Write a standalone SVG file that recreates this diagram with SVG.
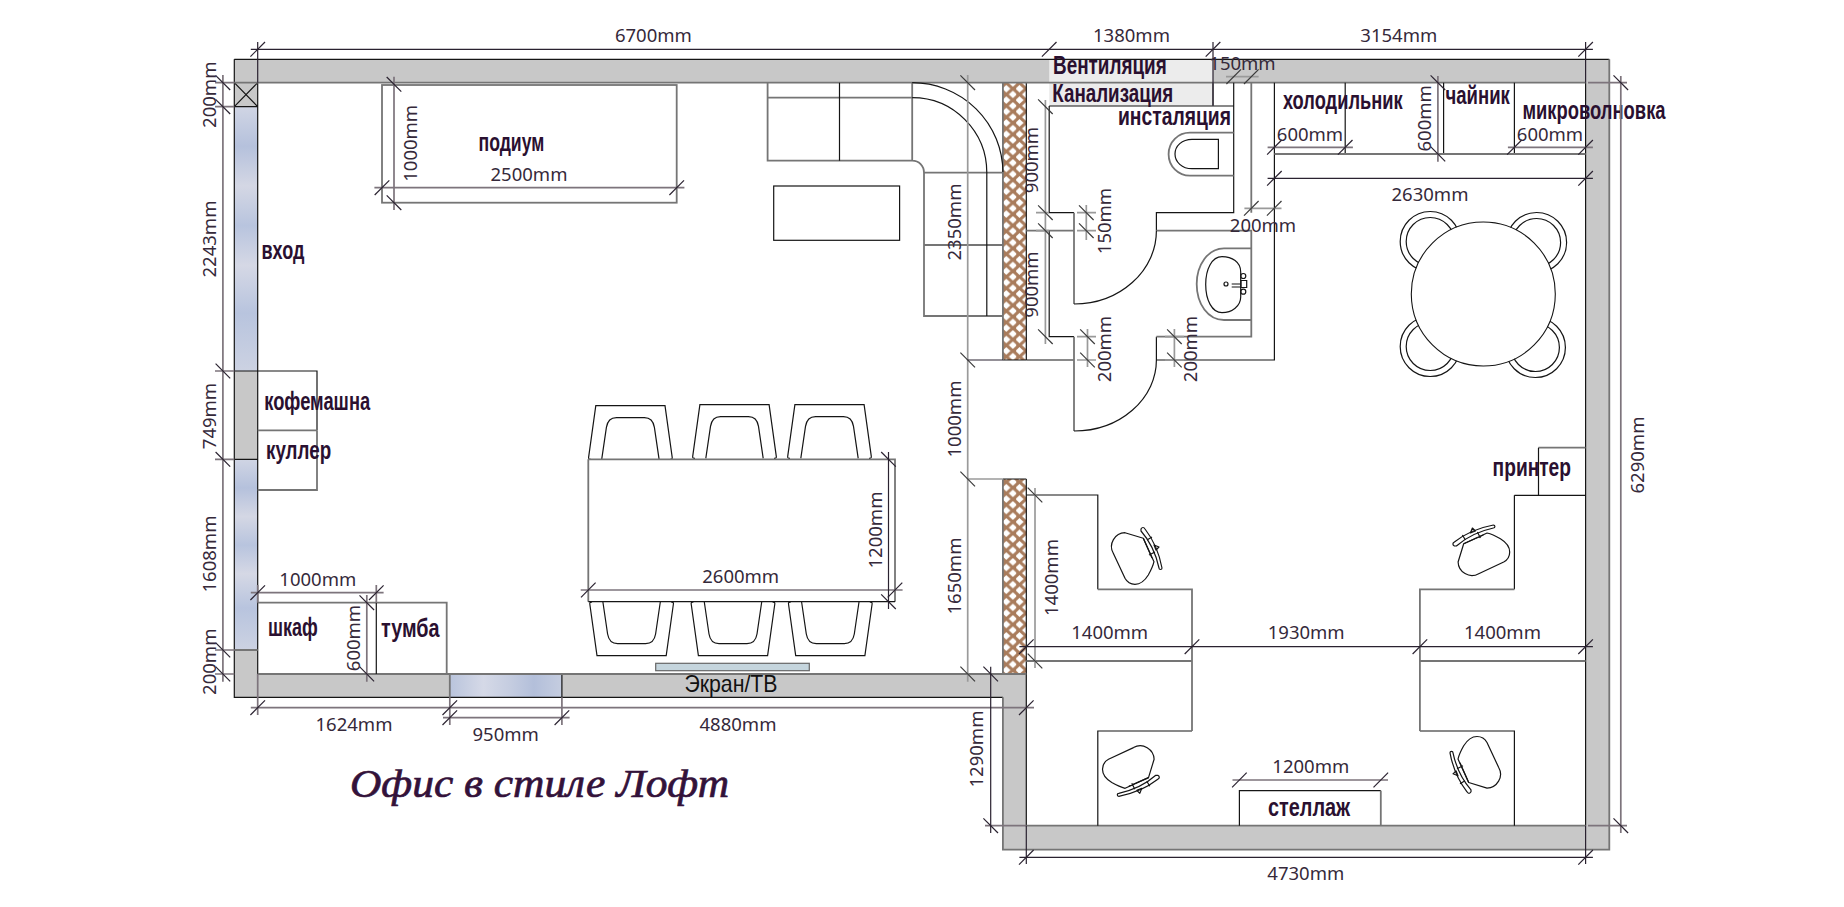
<svg xmlns="http://www.w3.org/2000/svg" width="1844" height="907" viewBox="0 0 1844 907">
<style>
.k{fill:none;stroke:#151515;stroke-width:1.2}
.g{fill:none;stroke:#757575;stroke-width:1.8}
.w{fill:#fff;stroke:#151515;stroke-width:1.1}
.dk path,.dk use{fill:none;stroke:#2a2230;stroke-width:1.2}
.dg path,.dg use{fill:none;stroke:#7d747c;stroke-width:1.7}
.dl path{fill:none;stroke:#9a9a9a;stroke-width:1.7}
.dl use{fill:none;stroke:#3a3a3a;stroke-width:1.2}
text{fill:#2c1a30}
.d{font:18.5px "Noto Sans",sans-serif;text-anchor:middle;fill:#35293a}
.l{font:bold 26px "Liberation Sans",sans-serif;fill:#2a1030}
.s{font:24px "Liberation Sans",sans-serif;fill:#111}
.t{font:italic 40px "Liberation Serif",serif;fill:#33123a;stroke:#33123a;stroke-width:.7}
</style>
<defs>
<path id="f" d="M-7.3 7.3L7.3-7.3"/>
<path id="b" d="M-7.3-7.3L7.3 7.3"/>
<pattern id="brick" width="13.2" height="11.4" patternUnits="userSpaceOnUse" x="1003" y="83">
<rect width="13.2" height="11.4" fill="#a97c5c"/>
<path d="M3.3 1.9L7.4 5.7L3.3 9.5L-.8 5.7ZM9.9-3.8L14 0L9.9 3.8L5.8 0ZM9.9 7.6L14 11.4L9.9 15.2L5.8 11.4Z" fill="#fff"/>
</pattern>
<linearGradient id="gv" x1="0" y1="0" x2="0" y2="1">
<stop offset="0" stop-color="#d0d5e4"/><stop offset=".15" stop-color="#b5c1dc"/><stop offset=".3" stop-color="#d4d7e4"/><stop offset=".45" stop-color="#b8c4de"/><stop offset=".6" stop-color="#d5d8e5"/><stop offset=".78" stop-color="#b8c4de"/><stop offset="1" stop-color="#ccd2e2"/>
</linearGradient>
<linearGradient id="gh" x1="0" y1="0" x2="1" y2="0">
<stop offset="0" stop-color="#b9c4dc"/><stop offset=".3" stop-color="#d5d9e7"/><stop offset=".55" stop-color="#c4cce0"/><stop offset=".75" stop-color="#b3bfda"/><stop offset="1" stop-color="#c5cde0"/>
</linearGradient>
<g id="dc" class="k">
<path d="M-39.500 0C-41.500 0-42 -.5-41.800-2L-34.600-53.600H34.600L41.800-2C42-.5 41.500 0 39.500 0M-28.700 0L-24-32C-23-38-20-41.700-14-41.700H14C20-41.700 23-38 24-32L28.700 0"/>
</g>
<g id="oc" class="k" stroke-linejoin="round">
<path d="M-18.700-4.700C-24-14-17-25-7-25.300L11.300-19.700L22 3.700C21 8 18 14 16.300 17C12 24 8 26.300 3 26.300C-2 26.300-5 24-7 20.300Z"/>
<path d="M9-29C10-31 12-31 13-29C20-20 27-6 30 10C30 12 27 12 27 10C24-4 17-18 9-27Z"/>
<path d="M11.300-19.700L20 0M15-18L20-21M17-3L23-6M22-13L27-11L24-8Z"/>
</g>
</defs>
<rect width="1844" height="907" fill="#fff"/>

<g id="walls">
<path d="M234.300 59.300H1609.300V849.700H1002.900V697.300H234.300ZM257.700 82.700V674H1026.300V825.700H1585.600V82.700Z" fill="#c8c8c8" fill-rule="evenodd"/>
<rect id="window-left-1" x="234.300" y="106.700" width="23.400" height="264.300" fill="url(#gv)"/>
<rect id="window-left-2" x="234.300" y="459.300" width="23.400" height="190.700" fill="url(#gv)"/>
<rect id="window-bottom" x="449.800" y="674" width="112.100" height="23.300" fill="url(#gh)"/>
<rect id="vent-box" x="1049.200" y="59.300" width="163.800" height="46.700" fill="#ececec"/>
<rect id="partition-1" x="1002.900" y="82.700" width="23.400" height="277.300" fill="url(#brick)"/>
<rect id="partition-2" x="1002.900" y="479" width="23.400" height="195" fill="url(#brick)"/>
<path class="k" d="M234.300 59.300H1609.300M234.300 59.300V697.300H1002.900M257.700 82.700V106.700M234.300 106.700H257.700M234.300 82.700L257.700 106.700M257.700 82.700L234.300 106.700M257.700 106.700V674M234.300 371H257.700M234.300 459.300H257.700M1585.600 82.700V825.700M1026.300 674V825.700M1002.900 479H1026.300M1002.900 360H1026.300M1026.300 82.700V360M1026.300 479V674M561.900 674V697.300"/>
<path class="g" d="M234.300 82.700H1585.600M257.700 674H1026.300M1026.300 825.700H1585.600M1609.300 59.300V849.700H1002.900V697.300M234.300 650H257.700M449.800 674V697.300M1002.900 82.700V360M1002.900 479V674"/>
</g>

<g id="bathroom">
<path class="k" d="M1049.200 106V212.700H1074M1049.200 230.700V336.700H1074M1026.300 360H1074M1156.400 360H1274.400V82.700M1156.400 336.700V360M1233.700 82.700V212.700H1156.400V230.700M1049.200 106H1233.700"/>
<path class="g" d="M1026.300 230.700H1074M1074 212.700V304M1156.400 230.700H1251.300V336.700H1156.400M1251.300 82.700V212.700M1074 336.700V431M1213 82.700V106"/>
<path id="door-1" class="k" d="M1074 304A82.400 73.300 0 0 0 1156.400 230.700"/>
<path id="door-2" class="k" d="M1074 431A82.400 71 0 0 0 1156.400 360"/>
<g id="toilet">
<path class="g" d="M1233.700 132.700H1190C1178 132.700 1168.600 142 1168.600 154.200C1168.600 166 1178 175.700 1190 175.700H1233.700"/>
<path class="k" d="M1218.400 139.300H1192C1182 139.300 1175 146 1175 154C1175 162 1182 168.700 1192 168.700H1218.400Z"/>
</g>
<g id="sink">
<path class="g" d="M1251.300 248.300H1224C1208 248.300 1196.700 265 1196.700 284C1196.700 304 1208 320 1224 320H1251.300"/>
<path class="k" d="M1222 256.700C1232 256.700 1240.700 262 1240.700 272V297C1240.700 306 1232 312.700 1222 312.700C1212 312.700 1205.700 300 1205.700 284.500C1205.700 269 1212 256.700 1222 256.700Z"/>
<circle class="k" cx="1226" cy="284" r="2"/>
<path class="k" d="M1231.700 284H1241M1241 280.500H1246.700V287.500H1241ZM1231.700 287H1241"/>
<circle class="k" cx="1243.300" cy="276" r="2.500"/>
<circle class="k" cx="1243.300" cy="291.700" r="2.500"/>
</g>
</g>

<g id="podium"><rect class="g" x="382" y="85" width="294.700" height="117.700"/><text class="l" x="478.500" y="151.300" textLength="65.800" lengthAdjust="spacingAndGlyphs">подиум</text></g>
<g id="sofa">
<path class="g" d="M912.200 82.700V160.700H767.600V82.700M767.600 97.700H912.200M912.200 160.700C919 160.700 924 166 924 172.700V316H1002.900M924 172.700H1002.900M924 245H1002.900"/>
<path class="k" d="M839.500 82.700V160.700M912.200 82.700A90.700 90 0 0 1 1002.900 172M912.200 97.700A74.600 75 0 0 1 986.800 172.700V316"/>
</g>
<rect id="coffee-table" class="k" x="773.700" y="186" width="125.900" height="54.300"/>

<g id="coffee-machine"><path class="k" d="M257.700 371H317V430.300"/><path class="g" d="M257.700 430.300H317"/><text class="l" x="264.200" y="410" textLength="106" lengthAdjust="spacingAndGlyphs">кофемашна</text></g>
<g id="cooler"><path class="g" d="M317 430.300V490H257.700"/><text class="l" x="266" y="459.300" textLength="65.200" lengthAdjust="spacingAndGlyphs">куллер</text></g>
<g id="wardrobe"><path class="g" d="M257.700 602.700H446.700V674"/><path class="k" d="M376.300 602.700V674"/><text class="l" x="268" y="636" textLength="49.800" lengthAdjust="spacingAndGlyphs">шкаф</text></g>
<g id="cabinet"><text class="l" x="381" y="637.300" textLength="58.500" lengthAdjust="spacingAndGlyphs">тумба</text></g>

<g id="dining">
<use href="#dc" x="630.400" y="459.300"/>
<use href="#dc" x="734.500" y="458.300"/>
<use href="#dc" x="829.500" y="458.300"/>
<use href="#dc" transform="translate(631.600 602) scale(1 -1)"/>
<use href="#dc" transform="translate(733 602) scale(1 -1)"/>
<use href="#dc" transform="translate(830.300 602) scale(1 -1)"/>
<path class="g" d="M588.300 459.300H895V601.700M588.300 459.300V601.700"/>
<path class="k" d="M588.300 601.700H895"/>
</g>

<g id="screen"><rect x="655.700" y="663.300" width="153.600" height="7.400" fill="#c5d5dd" stroke="#666" stroke-width="1.200"/><text class="s" x="684.400" y="691.700" textLength="93.100" lengthAdjust="spacingAndGlyphs">Экран/ТВ</text></g>

<g id="kitchen">
<path class="k" d="M1345.200 82.700V154M1443.600 82.700V154M1514.400 82.700V154"/>
<path class="g" d="M1274.400 154H1585.600"/>
<text class="l" x="1282.900" y="109.300" textLength="119.700" lengthAdjust="spacingAndGlyphs">холодильник</text>
<text class="l" x="1445.500" y="104" textLength="64.300" lengthAdjust="spacingAndGlyphs">чайник</text>
<text class="l" x="1522.400" y="119" textLength="143.200" lengthAdjust="spacingAndGlyphs">микроволновка</text>
</g>

<g id="round-table">
<g class="k"><circle cx="1430.200" cy="241.500" r="30"/><circle cx="1430.200" cy="241.500" r="24"/><circle cx="1536.600" cy="242.500" r="30"/><circle cx="1536.600" cy="242.500" r="24"/><circle cx="1430.200" cy="346.500" r="30"/><circle cx="1430.200" cy="346.500" r="24"/><circle cx="1535.400" cy="347.500" r="30"/><circle cx="1535.400" cy="347.500" r="24"/></g>
<circle class="w" cx="1483.300" cy="294" r="72"/>
</g>

<g id="desks">
<path class="k" d="M1026.300 495H1097.800V589.300M1097.800 825.700V731H1192M1514.400 495.300V589.300M1514.400 825.700V731H1419.900M1514.400 495.300H1585.600"/>
<path class="g" d="M1097.800 589.300H1192V731M1026.300 661H1192M1514.400 589.300H1419.900V731M1419.900 661H1585.600"/>
<use href="#oc" transform="translate(1132 558)"/>
<use href="#oc" transform="translate(1483.400 555) rotate(-90)"/>
<use href="#oc" transform="translate(1128.800 766.300) rotate(90)"/>
<use href="#oc" transform="translate(1480 762.800) rotate(180)"/>
</g>
<g id="printer"><path class="g" d="M1538.500 447.700H1585.600"/><path class="k" d="M1538.500 447.700V495.300"/><text class="l" x="1492.600" y="475.700" textLength="78.400" lengthAdjust="spacingAndGlyphs">принтер</text></g>
<g id="shelf"><path class="k" d="M1239.400 825.700V790.700H1380.800"/><path class="g" d="M1380.800 790.700V825.700"/><text class="l" x="1268" y="816" textLength="82.200" lengthAdjust="spacingAndGlyphs">стеллаж</text></g>

<g id="dimensions">
<g class="dk"><path d="M250.800 49.300H1592.900M257.700 42V82.700M1585.600 42V82.700M1213 42V106"/><use href="#f" x="257.700" y="49.300"/><use href="#f" x="1049.200" y="49.300"/><use href="#f" x="1213" y="49.300"/><use href="#f" x="1585.600" y="49.300"/></g>
<g class="dg"><path d="M222.900 75V681.700M215 82.700H234.300M215 106.700H234.300M215 371H234.300M215 459.300H234.300M215 650H234.300M215 674H234.300"/></g>
<g class="dk"><use href="#b" x="222.900" y="82.700"/><use href="#b" x="222.900" y="106.700"/><use href="#b" x="222.900" y="371"/><use href="#b" x="222.900" y="459.300"/><use href="#b" x="222.900" y="650"/><use href="#b" x="222.900" y="674"/></g>
<g class="dg"><path d="M374.400 187.700H684.400M394 76.700V210"/></g>
<g class="dk"><use href="#f" x="382" y="187.700"/><use href="#f" x="676.700" y="187.700"/><use href="#b" x="394" y="84.300"/><use href="#b" x="394" y="202.700"/></g>
<g class="dg"><path d="M250.800 592.700H383.600M257.700 585V602.700M376.300 585V602.700M366.800 595V681.700"/></g>
<g class="dk"><use href="#f" x="257.700" y="592.700"/><use href="#f" x="376.300" y="592.700"/><use href="#b" x="366.800" y="602.700"/><use href="#b" x="366.800" y="674"/></g>
<g class="dg"><path d="M250.800 707.700H1034M443 717.700H569.600M257.700 674V715M449.800 697.300V725M561.900 697.300V725"/></g>
<g class="dk"><use href="#f" x="257.700" y="707.700"/><use href="#f" x="449.800" y="707.700"/><use href="#f" x="1026.300" y="707.700"/><use href="#f" x="449.800" y="717.700"/><use href="#f" x="561.900" y="717.700"/></g>
<g class="dg"><path d="M580.700 590H902.600"/></g>
<g class="dk"><path d="M888.500 452V609"/><use href="#f" x="588.300" y="590"/><use href="#f" x="895" y="590"/><use href="#b" x="888.500" y="459.300"/><use href="#b" x="888.500" y="601.700"/></g>
<g class="dl"><path d="M967.700 75V681.700M967.700 479H1002.900"/><use href="#b" x="967.700" y="82.700"/><use href="#b" x="967.700" y="360"/><use href="#b" x="967.700" y="479"/><use href="#b" x="967.700" y="674"/></g>
<g class="dk"><path d="M967.700 360H1003"/></g>
<g class="dl"><path d="M1045.400 100V344M1036 212.700H1049M1036 230.700H1049"/><use href="#b" x="1045.400" y="106.700"/><use href="#b" x="1045.400" y="212.700"/><use href="#b" x="1045.400" y="230.700"/><use href="#b" x="1045.400" y="336.700"/></g>
<g class="dl"><path d="M1086.300 205V240M1077 212.700H1096M1077 230.700H1096M1087.500 329V367M1174.400 329V367M1077 336.700H1096M1077 360H1096M1165 336.700H1184M1165 360H1184"/><use href="#b" x="1086.300" y="212.700"/><use href="#b" x="1086.300" y="230.700"/><use href="#b" x="1087.500" y="336.700"/><use href="#b" x="1087.500" y="360"/><use href="#b" x="1174.400" y="336.700"/><use href="#b" x="1174.400" y="360"/></g>
<g class="dl"><path d="M1226 76.700H1258.600M1244.400 208.300H1281.500"/><use href="#f" x="1233.700" y="76.700"/><use href="#f" x="1251.300" y="76.700"/><use href="#f" x="1251.300" y="208.300"/><use href="#f" x="1274.200" y="208.300"/></g>
<g class="dg"><path d="M1267.600 147.300H1352.900M1507.900 147.300H1592.900M1437.900 76V161.700"/></g>
<g class="dk"><use href="#f" x="1274.400" y="147.300"/><use href="#f" x="1345.200" y="147.300"/><use href="#f" x="1514.400" y="147.300"/><use href="#f" x="1585.600" y="147.300"/><use href="#b" x="1437.900" y="82.700"/><use href="#b" x="1437.900" y="154"/></g>
<g class="dk"><path d="M1267.600 178.300H1592.900"/><use href="#f" x="1274.400" y="178.300"/><use href="#f" x="1585.600" y="178.300"/></g>
<g class="dg"><path d="M1620.800 76V833M1588 82.700H1627M1588 825.700H1627"/></g>
<g class="dk"><use href="#b" x="1620.800" y="82.700"/><use href="#b" x="1620.800" y="825.700"/></g>
<g class="dl"><path d="M1035 488V668"/><use href="#b" x="1035" y="495"/><use href="#b" x="1035" y="661"/></g>
<g class="dk"><path d="M1019.400 646.700H1592.900"/><use href="#f" x="1026.300" y="646.700"/><use href="#f" x="1192" y="646.700"/><use href="#f" x="1419.900" y="646.700"/><use href="#f" x="1585.600" y="646.700"/></g>
<g class="dg"><path d="M1232.500 780H1388M985 825.700H1026"/></g>
<g class="dk"><use href="#f" x="1239.400" y="780"/><use href="#f" x="1380.800" y="780"/><path d="M990.700 666.700V833M1019.400 857.300H1592.900M1026.300 825.700V864M1585.600 825.700V864"/><use href="#b" x="990.700" y="674"/><use href="#b" x="990.700" y="825.700"/><use href="#f" x="1026.300" y="857.300"/><use href="#f" x="1585.600" y="857.300"/></g>
</g>

<g id="labels">
<text class="d" x="653.400" y="42.300">6700mm</text>
<text class="d" x="1131.500" y="42.300">1380mm</text>
<text class="d" x="1398.800" y="42.300">3154mm</text>
<text class="d" x="1242.500" y="70">150mm</text>
<text class="l" x="1053" y="74.300" textLength="113.700" lengthAdjust="spacingAndGlyphs">Вентиляция</text>
<text class="l" x="1052.300" y="102.300" textLength="120.900" lengthAdjust="spacingAndGlyphs">Канализация</text>
<text class="l" x="1118" y="125.300" textLength="113" lengthAdjust="spacingAndGlyphs">инсталяция</text>
<text class="l" x="261.500" y="259.300" textLength="42.900" lengthAdjust="spacingAndGlyphs">вход</text>
<text class="d" x="529" y="181">2500mm</text>
<text class="d" x="1310" y="140.700">600mm</text>
<text class="d" x="1550" y="140.700">600mm</text>
<text class="d" x="1430" y="201">2630mm</text>
<text class="d" x="1263" y="231.700">200mm</text>
<text class="d" x="317.800" y="585.700">1000mm</text>
<text class="d" x="740.700" y="582.700">2600mm</text>
<text class="d" x="354" y="731">1624mm</text>
<text class="d" x="505.700" y="741">950mm</text>
<text class="d" x="738" y="731">4880mm</text>
<text class="d" x="1109.700" y="639">1400mm</text>
<text class="d" x="1306.200" y="639">1930mm</text>
<text class="d" x="1502.500" y="639">1400mm</text>
<text class="d" x="1310.800" y="772.700">1200mm</text>
<text class="d" x="1305.800" y="880">4730mm</text>
<text class="d" transform="rotate(-90 216.400 94.700)" x="216.400" y="94.700">200mm</text>
<text class="d" transform="rotate(-90 216.400 239)" x="216.400" y="239">2243mm</text>
<text class="d" transform="rotate(-90 216.400 416)" x="216.400" y="416">749mm</text>
<text class="d" transform="rotate(-90 216.400 554)" x="216.400" y="554">1608mm</text>
<text class="d" transform="rotate(-90 216.400 661.700)" x="216.400" y="661.700">200mm</text>
<text class="d" transform="rotate(-90 417.300 143.300)" x="417.300" y="143.300">1000mm</text>
<text class="d" transform="rotate(-90 359.900 638)" x="359.900" y="638">600mm</text>
<text class="d" transform="rotate(-90 881.600 530)" x="881.600" y="530">1200mm</text>
<text class="d" transform="rotate(-90 960.800 222)" x="960.800" y="222">2350mm</text>
<text class="d" transform="rotate(-90 961.200 419)" x="961.200" y="419">1000mm</text>
<text class="d" transform="rotate(-90 961.200 576)" x="961.200" y="576">1650mm</text>
<text class="d" transform="rotate(-90 1037.700 160)" x="1037.700" y="160">900mm</text>
<text class="d" transform="rotate(-90 1037.700 284.500)" x="1037.700" y="284.500">900mm</text>
<text class="d" transform="rotate(-90 1111 221)" x="1111" y="221">150mm</text>
<text class="d" transform="rotate(-90 1111.200 349)" x="1111.200" y="349">200mm</text>
<text class="d" transform="rotate(-90 1197.300 349)" x="1197.300" y="349">200mm</text>
<text class="d" transform="rotate(-90 1430.600 118.300)" x="1430.600" y="118.300">600mm</text>
<text class="d" transform="rotate(-90 1057.600 577.500)" x="1057.600" y="577.500">1400mm</text>
<text class="d" transform="rotate(-90 983 749)" x="983" y="749">1290mm</text>
<text class="d" transform="rotate(-90 1643.700 455)" x="1643.700" y="455">6290mm</text>
<text class="t" x="350" y="796.700" textLength="379" lengthAdjust="spacingAndGlyphs">Офис в стиле Лофт</text>
</g>
</svg>
